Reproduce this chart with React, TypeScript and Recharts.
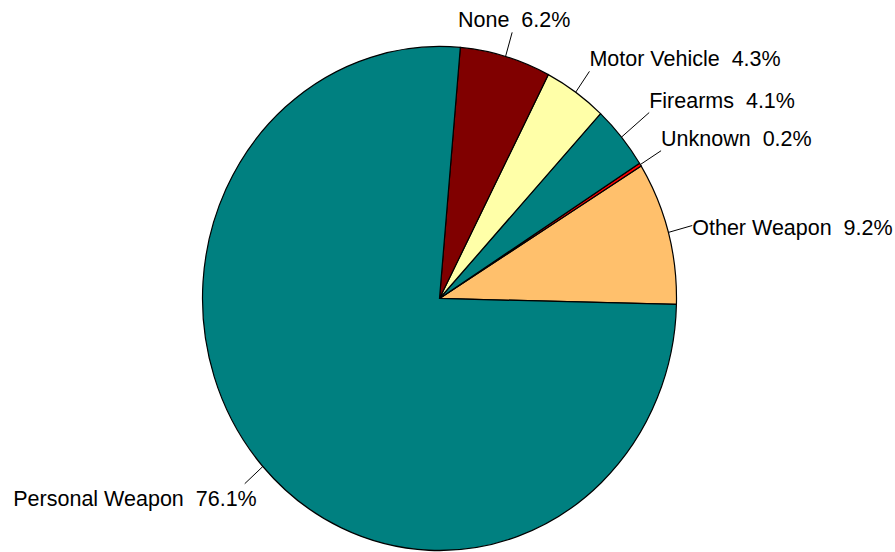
import React from 'react';
import { PieChart, Pie, Cell, Sector } from 'recharts';

// slices listed counter-clockwise, starting just below 3 o'clock
const categories = ['Other Weapon', 'Unknown', 'Firearms', 'Motor Vehicle', 'None', 'Personal Weapon'];
const shares = [9.2, 0.2, 4.1, 4.3, 6.2, 76.1];
const sliceColors = ['#FFC06C', '#FF0000', '#008080', '#FFFFA8', '#800000', '#008080'];

const data = categories.map((name, i) => ({ name, value: shares[i] }));

const WIDTH = 895;
const HEIGHT = 552;
const CX = 439.5;
const CY = 298.5;
const RADIUS = 237;
// the original pie is slightly stretched vertically
const SQUASH = 252 / 237;
const RAD = Math.PI / 180;

const leaderLength: Record<string, number> = { Firearms: 37 };

const StretchedSector = (props: any) => (
    <g transform={`translate(${props.cx} ${props.cy}) scale(1 ${SQUASH}) translate(${-props.cx} ${-props.cy})`}>
        <Sector {...props} />
    </g>
);

const renderLabel = (props: any) => {
    const { cx, cy, midAngle, outerRadius, name, value } = props;
    const cos = Math.cos(-midAngle * RAD);
    const sin = Math.sin(-midAngle * RAD);
    const sx = cx + outerRadius * cos;
    const sy = cy + outerRadius * sin * SQUASH;
    const len = Math.hypot(cos, sin * SQUASH);
    const ext = leaderLength[name] ?? 25;
    const ex = sx + (cos / len) * ext;
    const ey = sy + ((sin * SQUASH) / len) * ext;

    let tx = ex;
    let ty = ey - 5;
    let anchor: 'start' | 'middle' | 'end' = 'start';
    if (cos < 0) {
        anchor = 'end';
        tx = ex + 12;
        ty = ey + 22;
    } else if (Math.abs(cos) < 0.4) {
        anchor = 'middle';
        tx = ex + 2;
        ty = ey - 5;
    } else if (Math.abs(sin) < 0.35) {
        ty = ey + 9;
    }

    return (
        <g>
            <line x1={sx} y1={sy} x2={ex} y2={ey} stroke="#000" strokeWidth={1} />
            <text
                x={tx}
                y={ty}
                textAnchor={anchor}
                fill="#000"
                fontSize={21.5}
                fontFamily="'Liberation Sans', Arial, sans-serif"
                style={{ whiteSpace: 'pre' }}
            >
                {`${name}  ${value.toFixed(1)}%`}
            </text>
        </g>
    );
};

export default function App() {
    return (
        <div style={{ position: 'absolute', left: 0, top: 0, width: WIDTH, height: HEIGHT, background: '#fff' }}>
            <PieChart width={WIDTH} height={HEIGHT} margin={{ top: 0, right: 0, bottom: 0, left: 0 }}>
                <Pie
                    data={data}
                    dataKey="value"
                    nameKey="name"
                    cx={CX}
                    cy={CY}
                    outerRadius={RADIUS}
                    startAngle={-1.35}
                    endAngle={358.65}
                    stroke="#000"
                    strokeWidth={1.2}
                    label={renderLabel}
                    labelLine={false}
                    shape={StretchedSector}
                    isAnimationActive={false}
                >
                    {data.map((d, i) => (
                        <Cell key={d.name} fill={sliceColors[i]} />
                    ))}
                </Pie>
            </PieChart>
        </div>
    );
}
